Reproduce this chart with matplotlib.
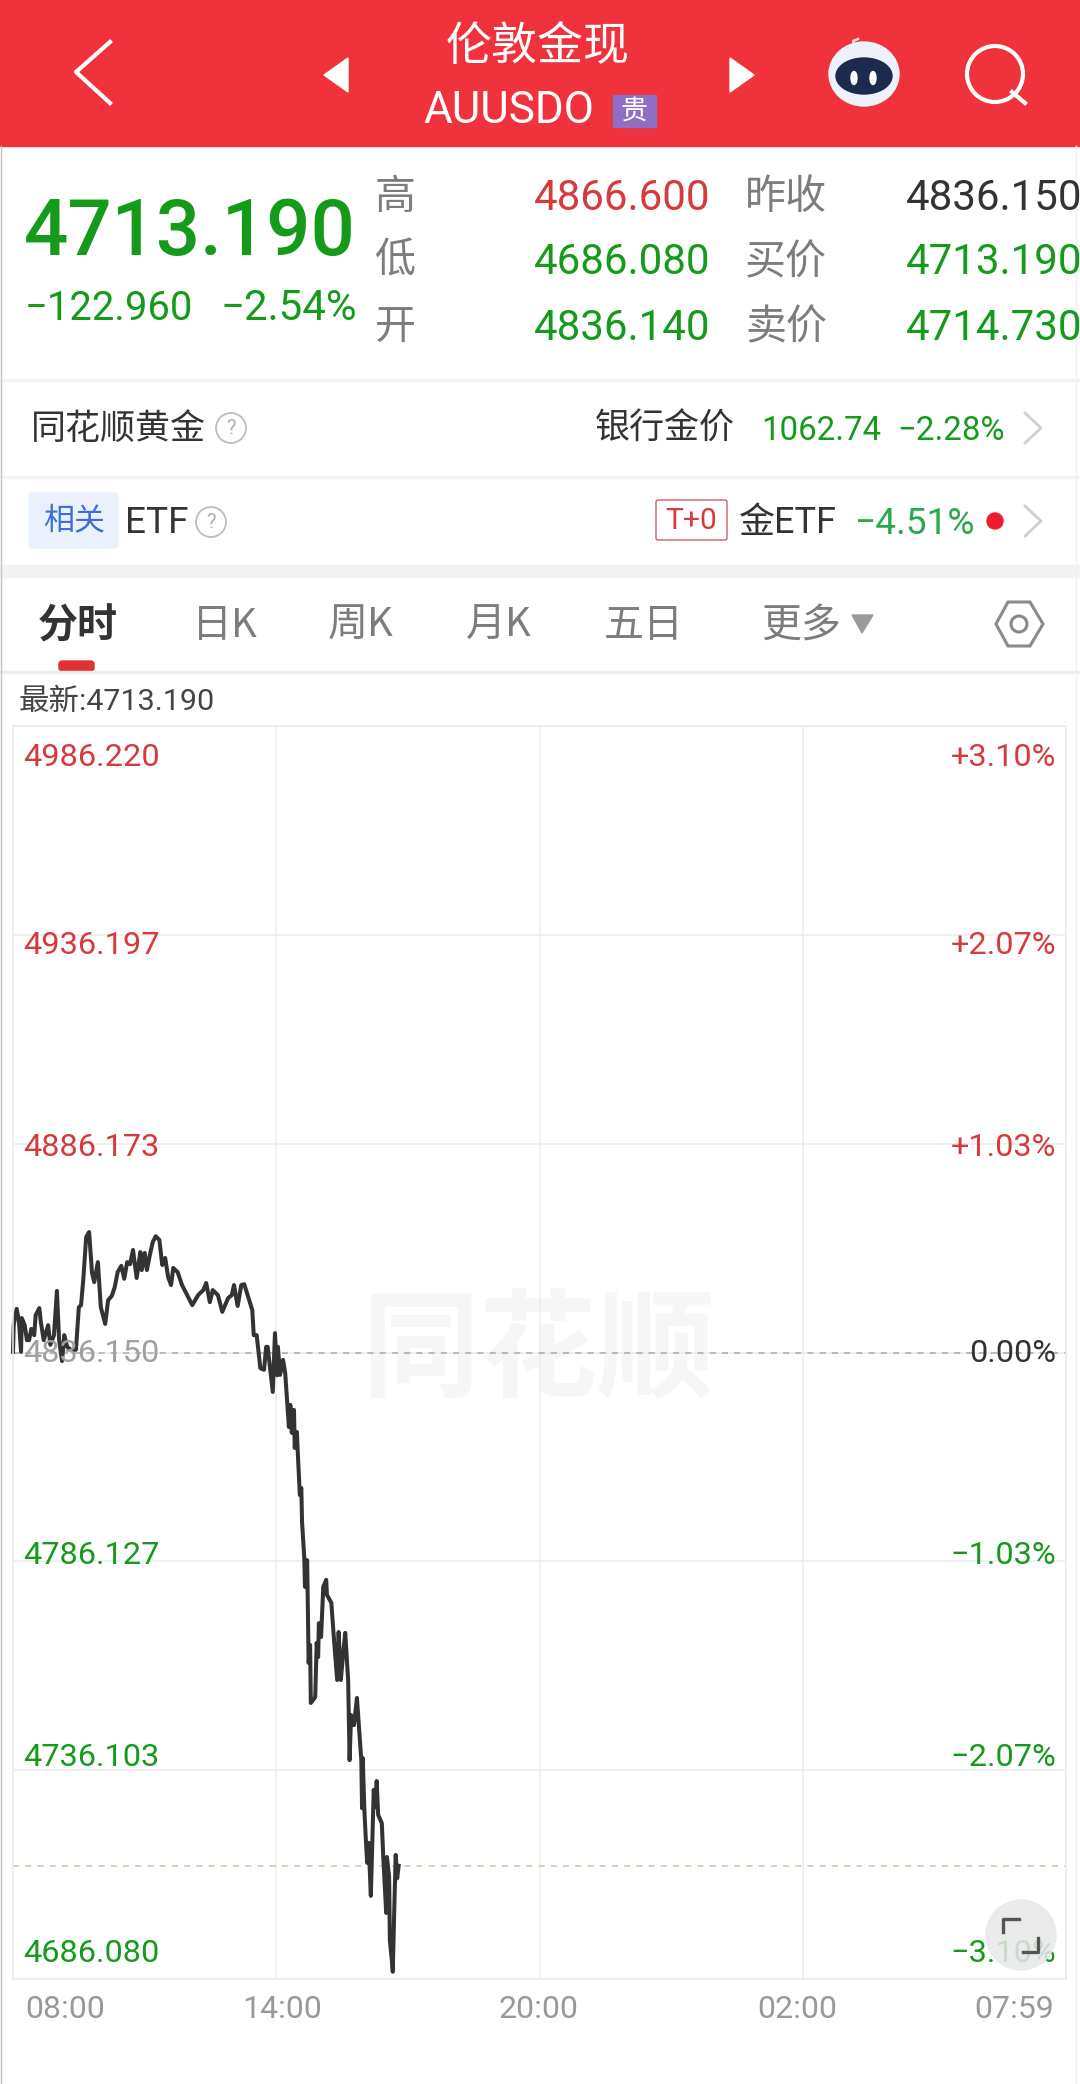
#!/usr/bin/python3

import matplotlib
matplotlib.use('Agg')
import matplotlib.pyplot as plt
from matplotlib.patches import Rectangle, Circle, Ellipse, Polygon, FancyBboxPatch

# intraday series, minutes after 08:00 and price
minutes = [0, 1, 5, 8, 11, 12, 16, 19, 22, 25, 29, 31, 36, 38, 42, 48, 51, 56, 60, 63,
           67, 70, 74, 79, 86, 90, 93, 96, 100, 104, 108, 111, 116, 120, 126, 130, 135, 139, 143, 148,
           152, 156, 160, 164, 169, 174, 176, 180, 183, 187, 191, 195, 200, 204, 208, 212, 216, 219, 225, 231,
           238, 245, 253, 260, 264, 269, 273, 280, 286, 294, 299, 302, 307, 312, 316, 321, 327, 329, 333, 338,
           343, 346, 348, 354, 355, 358, 361, 362, 365, 369, 372, 377, 379, 381, 384, 385, 388, 389, 392, 394,
           395, 398, 399, 402, 403, 404, 406, 407, 413, 415, 417, 418, 421, 424, 428, 429, 435, 439, 443, 445,
           448, 451, 454, 458, 460, 462, 466, 470, 476, 477, 478, 480, 482, 484, 486, 489, 492, 493, 495, 497,
           499, 504, 506, 510, 511, 514, 515, 518, 519, 521, 523, 525, 527]
prices = [4836.3, 4842.7, 4846.6, 4843.9, 4836.3, 4844.4, 4842.7, 4839.1, 4839.1, 4841.8, 4840.3, 4845.1, 4846.8, 4843.5, 4839.1, 4842.7, 4838.0, 4840.3, 4850.9, 4839.1,
          4834.1, 4840.3, 4837.5, 4836.8, 4836.8, 4847.0, 4847.5, 4853.5, 4863.8, 4865.0, 4855.2, 4853.0, 4857.8, 4847.0, 4843.0, 4848.7, 4849.7, 4851.8, 4855.4, 4856.9,
          4853.8, 4857.8, 4857.3, 4860.7, 4854.0, 4860.2, 4855.9, 4860.0, 4855.9, 4859.5, 4862.6, 4864.0, 4863.1, 4857.1, 4858.8, 4854.2, 4852.3, 4856.4, 4855.4, 4852.3,
          4849.9, 4847.5, 4849.9, 4851.1, 4852.8, 4848.2, 4851.1, 4849.9, 4845.9, 4849.2, 4849.9, 4852.3, 4847.3, 4852.3, 4852.5, 4849.7, 4846.3, 4840.3, 4840.3, 4832.4,
          4832.0, 4837.5, 4837.5, 4828.4, 4826.7, 4840.8, 4830.7, 4837.5, 4830.8, 4834.4, 4831.2, 4818.3, 4823.6, 4816.9, 4822.4, 4813.3, 4817.1, 4812.8, 4802.0, 4803.7,
          4795.5, 4787.2, 4780.0, 4786.4, 4774.5, 4761.8, 4766.1, 4752.2, 4753.6, 4766.6, 4763.2, 4771.3, 4768.0, 4780.0, 4781.7, 4778.1, 4776.2, 4766.6, 4757.7, 4769.2,
          4757.7, 4763.7, 4769.0, 4757.7, 4738.5, 4749.3, 4746.9, 4753.4, 4738.5, 4727.0, 4739.0, 4727.2, 4720.1, 4713.9, 4718.7, 4706.0, 4725.0, 4731.4, 4727.2, 4733.5,
          4725.4, 4723.4, 4715.3, 4701.9, 4715.3, 4710.5, 4695.4, 4690.0, 4687.8, 4702.6, 4715.8, 4710.2, 4713.19]

grid_prices = [4986.220, 4936.197, 4886.173, 4836.150, 4786.127, 4736.103, 4686.080]
left_labels = ['4986.220', '4936.197', '4886.173', '4836.150', '4786.127', '4736.103', '4686.080']
right_labels = ['+3.10%', '+2.07%', '+1.03%', '0.00%', '−1.03%', '−2.07%', '−3.10%']
grid_minutes = [0, 360, 720, 1080, 1439]
time_labels = ['08:00', '14:00', '20:00', '02:00', '07:59']
prev_close = 4836.150
last_price = 4713.190

RED = '#f0323c'
UP = '#d63a3c'
DOWN = '#159a1c'
GRAY = '#7d7d7d'
DARK = '#333333'
NUM = ['Roboto', 'Noto Sans CJK SC', 'DejaVu Sans']
CJK = ['Noto Sans CJK SC', 'DejaVu Sans']

fig = plt.figure(figsize=(10.8, 20.84), dpi=100)

# back layer in screen pixels
bg = fig.add_axes([0, 0, 1, 1], zorder=0)
bg.set_xlim(0, 1080)
bg.set_ylim(2084, 0)
bg.axis('off')

# chart
ax = fig.add_axes([13 / 1080, 1 - 1979 / 2084, 1053 / 1080, 1253 / 2084], zorder=1)
ax.patch.set_alpha(0)
ax.set_xlim(grid_minutes[0], grid_minutes[-1])
ax.set_ylim(grid_prices[-1], grid_prices[0])
ax.set_xticks(grid_minutes)
ax.set_yticks(grid_prices)
ax.tick_params(length=0, labelbottom=False, labelleft=False)
ax.grid(True, color='#ececec', linewidth=1.1)
for s in ax.spines.values():
    s.set_color('#ececec')
    s.set_linewidth(1.1)
ax.axhline(prev_close, color='#aaaaaa', linewidth=1.1, dashes=(4, 4))
ax.axhline(last_price, color='#c8caa6', linewidth=1.1, dashes=(4, 4))
ax.plot(minutes, prices, color='#333333', linewidth=2.9, solid_joinstyle='round', clip_on=False)

# top layer in screen pixels
ui = fig.add_axes([0, 0, 1, 1], zorder=2)
ui.patch.set_alpha(0)
ui.set_xlim(0, 1080)
ui.set_ylim(2084, 0)
ui.axis('off')


def txt(a, x, y, s, px, color, ha='left', family=NUM, weight='normal', zorder=5):
    a.text(x, y + 3, s, fontsize=px * 0.72, color=color, ha=ha, va='center',
           family=family, fontweight=weight, zorder=zorder)


def chevron(x0, x1, y0, y1):
    bg.plot([x0, x1, x0], [y0, (y0 + y1) / 2, y1], color='#cfcfcf', linewidth=2)


def question(x, y):
    bg.add_patch(Circle((x, y), 15, fill=False, edgecolor='#bdbdbd', linewidth=1.3))
    txt(bg, x, y - 3, '?', 20, '#b0b0b0', ha='center')


# header
bg.add_patch(Rectangle((0, 0), 1080, 146, color=RED, zorder=1))
txt(bg, 538, 44, '伦敦金现', 46, 'white', ha='center', family=CJK, weight='medium')
txt(bg, 423, 108, 'AUUSDO', 44, 'white')
bg.add_patch(Rectangle((613, 95), 43, 32, color='#8f6fc4', zorder=2))
txt(bg, 634.5, 108, '贵', 27, 'white', ha='center', family=CJK)
bg.plot([110, 76, 110], [42, 72, 103], color='white', linewidth=3, zorder=3)
bg.add_patch(Polygon([(348, 58), (348, 92), (324, 75)], color='white', zorder=3))
bg.add_patch(Polygon([(730, 58), (730, 92), (754, 75)], color='white', zorder=3))
# robot
bg.plot([855, 853, 858], [46, 41, 39], color='#f5dfe2', linewidth=1.8, zorder=3)
bg.add_patch(Ellipse((864, 74), 70, 64, color='#eef1fa', zorder=3))
bg.add_patch(Ellipse((864, 76), 56, 36, color='#1c2a4d', zorder=4))
bg.add_patch(Ellipse((854, 78), 6, 13, color='white', zorder=5))
bg.add_patch(Ellipse((873, 78), 6, 13, color='white', zorder=5))
# search
bg.add_patch(Circle((995, 74), 28, fill=False, edgecolor='white', linewidth=3, zorder=3))
bg.plot([1012, 1025], [92, 103], color='white', linewidth=3, zorder=3)

# quote block
txt(bg, 24, 231, '4713.190', 78, DOWN, weight='medium')
txt(bg, 25, 305, '−122.960', 40, DOWN)
txt(bg, 220, 305, '−2.54%', 42, DOWN)
for lab, y in zip(['高', '低', '开'], [195, 258, 325]):
    txt(bg, 395, y, lab, 41, GRAY, ha='center', family=CJK)
for lab, y in zip(['昨收', '买价', '卖价'], [195, 260, 325]):
    txt(bg, 745, y, lab, 41, GRAY, family=CJK)
for val, col, y in zip(['4866.600', '4686.080', '4836.140'], [UP, DOWN, DOWN], [195, 260, 325]):
    txt(bg, 534, y, val, 42, col)
for val, col, y in zip(['4836.150', '4713.190', '4714.730'], [DARK, DOWN, DOWN], [195, 260, 325]):
    txt(bg, 906, y, val, 42, col)

# info rows
bg.add_patch(Rectangle((0, 379), 1080, 2, color='#f2f2f2'))
txt(bg, 31, 426, '同花顺黄金', 35, DARK, family=CJK)
question(231, 428)
txt(bg, 595, 426, '银行金价', 35, DARK, family=CJK)
txt(bg, 761, 428, '1062.74', 33, DOWN)
txt(bg, 897, 428, '−2.28%', 33, DOWN)
chevron(1025, 1041, 413, 443)
bg.add_patch(Rectangle((0, 476), 1080, 2, color='#f2f2f2'))

bg.add_patch(FancyBboxPatch((32, 496), 83, 49, boxstyle='round,pad=3', color='#ecf2fd'))
txt(bg, 74, 519, '相关', 31, '#3f6fdc', ha='center', family=CJK)
txt(bg, 125, 520, 'ETF', 37, DARK)
question(211, 522)
bg.add_patch(FancyBboxPatch((658, 502), 67, 36, boxstyle='round,pad=2', facecolor='white',
                            edgecolor='#c9605f', linewidth=1))
txt(bg, 691, 518, 'T+0', 30, '#d63a3c', ha='center')
txt(bg, 739, 520, '金ETF', 36, DARK)
txt(bg, 855, 521, '−4.51%', 37, '#2ba84a')
bg.add_patch(Circle((995, 521), 8, color='#ee1c2e'))
chevron(1025, 1041, 506, 536)
bg.add_patch(Rectangle((0, 565), 1080, 12, color='#f3f3f3'))

# tabs
txt(bg, 38, 623, '分时', 40, DARK, family=CJK, weight='bold')
for lab, x in zip(['日K', '周K', '月K', '五日', '更多'], [192, 328, 466, 604, 761]):
    txt(bg, x, 623, lab, 40, GRAY, family=CJK)
bg.add_patch(Polygon([(852, 615), (873, 615), (862, 633)], color='#9a9a9a'))
bg.add_patch(Polygon([(1008, 602), (1030, 602), (1043, 624), (1030, 646), (1008, 646), (996, 624)],
                     fill=False, edgecolor='#8a8a8a', linewidth=2.2))
bg.add_patch(Circle((1019, 624), 8, fill=False, edgecolor='#8a8a8a', linewidth=2.2))
bg.add_patch(FancyBboxPatch((62, 664), 29, 4, boxstyle='round,pad=3', color='#e03232'))
bg.add_patch(Rectangle((0, 671), 1080, 2, color='#eeeeee'))
txt(bg, 19, 699, '最新:4713.190', 30.5, '#444444')

# watermark behind the line
txt(bg, 538, 1350, '同花顺', 118, '#f6f6f6', ha='center', family=CJK, weight='bold')

# screen edges
bg.plot([0.7, 0.7], [146, 2084], color='#c4c4c4', linewidth=1)
bg.plot([1076, 1076], [146, 2084], color='#f0f0f0', linewidth=1)

# axis labels
label_y = [755, 942, 1145, 1351, 1552, 1755, 1951]
left_colors = [UP, UP, UP, '#a0a0a0', DOWN, DOWN, DOWN]
right_colors = [UP, UP, UP, DARK, DOWN, DOWN, DOWN]
for lab, col, y in zip(left_labels, left_colors, label_y):
    txt(ui, 23, y, lab, 32.5, col)
for lab, col, y in zip(right_labels, right_colors, label_y):
    txt(ui, 1056, y, lab, 32.5, col, ha='right')
time_x = [25, 282, 539, 797, 1054]
time_ha = ['left', 'center', 'center', 'center', 'right']
for lab, x, ha in zip(time_labels, time_x, time_ha):
    txt(ui, x, 2007, lab, 32, '#999999', ha=ha)

# fullscreen button
ui.add_patch(Circle((1021, 1935), 35, color='#e8e8e8', alpha=0.85, zorder=6))
ui.plot([1003, 1003, 1019], [1932, 1919, 1919], color='#555555', linewidth=2.4, zorder=7)
ui.plot([1023, 1038, 1038], [1952, 1952, 1938], color='#555555', linewidth=2.4, zorder=7)

fig.savefig('out.png', dpi=100)
